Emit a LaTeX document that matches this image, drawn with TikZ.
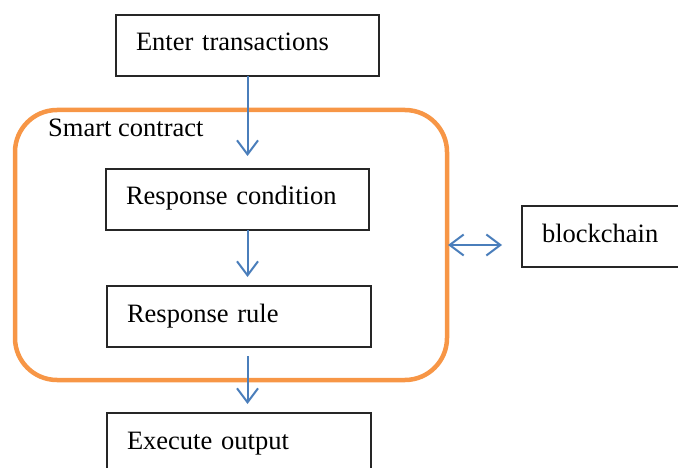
\documentclass[tikz,border=0pt]{standalone}
\usepackage{fontspec}
\setmainfont{Liberation Serif}
\usetikzlibrary{arrows.meta}

\definecolor{ctorange}{HTML}{F79646}
\definecolor{ctblue}{HTML}{4A7EBB}

\begin{document}
\begin{tikzpicture}[x=1pt, y=-1pt,
	box/.style={draw=black!85, line width=1.1pt, anchor=north west, align=left,
		inner xsep=20pt, inner ysep=0pt, outer sep=0pt, minimum height=61pt,
		text height=18pt, text depth=7pt,
		font=\fontsize{26.5}{30}\selectfont},
	flow/.style={draw=ctblue, line width=2pt,
		-{Straight Barb[length=14pt, width=21pt, line width=2pt]}},
	flows/.style={draw=ctblue, line width=2pt,
		{Straight Barb[length=14pt, width=21pt, line width=2pt]}-{Straight Barb[length=14pt, width=21pt, line width=2pt]}}]
	\useasboundingbox (0,0) rectangle (678,468);

	\node [draw=ctorange, line width=4.5pt, rounded corners=42pt, anchor=north west,
		minimum width=432pt, minimum height=270pt, inner sep=0pt, outer sep=0pt] (contract) at (15,110) {};
	\node [anchor=base west, inner sep=0pt, font=\fontsize{26.5}{30}\selectfont] (title) at (48,137) {Smart contract};

	\node [box, text width=223pt] (entry) at (116,15) {Enter transactions};
	\node [box, text width=223pt] (cond) at (106,169) {Response condition};
	\node [box, text width=224pt] (rule) at (107,286) {Response rule};
	\node [box, text width=224pt] (exec) at (107,413) {Execute output};
	\node [box, text width=160pt] (chain) at (522,206) {blockchain};

	\draw [flow, shorten >=13pt] (entry.south) -- (entry.south |- cond.north);
	\draw [flow, shorten >=9pt] (entry.south |- cond.south) -- (entry.south |- rule.north);
	\draw [flow, shorten <=9pt, shorten >=9pt] (entry.south |- rule.south) -- (entry.south |- exec.north);

	\draw [flows, shorten <=1pt, shorten >=20pt] (contract.east) -- (contract.east -| chain.west);
\end{tikzpicture}
\end{document}
